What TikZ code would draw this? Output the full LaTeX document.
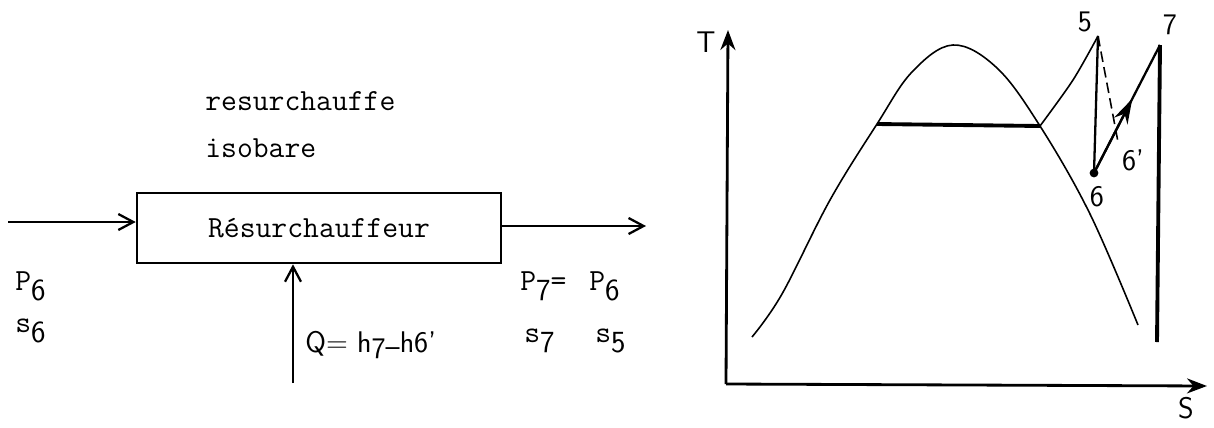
\documentclass[tikz,border=0pt]{standalone}
\usetikzlibrary{arrows.meta,calc}
\newcommand{\lowsub}[1]{\raisebox{-.8ex}{\sffamily #1}}

\begin{document}
\begin{tikzpicture}[x=0.02cm,y=-0.02cm,
  tw/.style={font=\fontsize{17.5}{20}\selectfont\ttfamily,inner sep=0pt,anchor=base west},
  hand/.style={font=\fontsize{17}{20}\selectfont\sffamily,inner sep=0pt},
  flow/.style={line width=1.3pt,-{Straight Barb[length=3mm,width=3.2mm]}},
  axis/.style={line width=1.6pt,-{Stealth[length=4mm,width=3mm]}}]
  \useasboundingbox (0,0) rectangle (1214,427);
  % Resurchauffeur
  \node[draw,line width=1.5pt,minimum width=7.28cm,minimum height=1.4cm,inner sep=0pt,
        font=\fontsize{17.5}{20}\selectfont\ttfamily] (box) at (319,228) {Résurchauffeur};
  \node[tw] (rs) at (205,110) {resurchauffe};
  \node[tw] (iso) at (205,157) {isobare};
  % flows
  \coordinate (in) at (8,222);
  \coordinate (out) at (646,226);
  \coordinate (qin) at (293,383);
  \draw[flow] (in) -- (in -| box.west);
  \draw[flow] (out -| box.east) -- (out);
  \draw[flow] (qin) -- (qin |- box.south);
  \node[tw] (pin) at (15,290) {P\lowsub{6}};
  \node[tw] (sin) at (15,332) {s\lowsub{6}};
  \node[hand,anchor=west] (q) at (305,345) {Q= h\raisebox{-.4ex}{7}\raisebox{-.3ex}{--}h6'};
  \node[tw] (pout) at (520,290) {P\lowsub{7}=};
  \node[tw] (pin2) at (589,290) {P\lowsub{6}};
  \node[tw] (sout) at (524,342) {s\lowsub{7}};
  \node[tw] (s5) at (595,342) {s\lowsub{5}};
  % T-S diagram
  \coordinate (o) at (726,384);
  \coordinate (ty) at (728,30);
  \coordinate (sx) at (1207,386);
  \draw[axis] (o) -- (ty);
  \draw[axis] (o) -- (sx);
  \node[hand] (t) at (706,42) {T};
  \node[hand] (s) at (1186,408) {S};
  % dome
  \coordinate (a) at (877,124);
  \coordinate (b) at (1040,126);
  \draw[line width=0.9pt] plot[smooth,tension=0.6] coordinates {(752,337) (782,294)
    (830,200) (a) (912,72) (953,45) (997,68) (b) (1090,214) (1138,325)};
  \draw[line width=2.2pt] (a) -- (b);
  % cycle
  \coordinate (p5) at (1098,36);
  \coordinate (p6) at (1094,173);
  \coordinate (p6p) at (1118,142);
  \coordinate (p7) at (1160,45);
  \coordinate (p7b) at (1157,342);
  \draw[line width=0.9pt] plot[smooth] coordinates {(b) (1073,80) (p5)};
  \draw[line width=1.3pt] (p5) -- (p6);
  \draw[line width=0.9pt,dash pattern=on 6pt off 3pt] (p5) -- (p6p);
  \draw[line width=1.3pt] (p6) -- (p7);
  \draw[line width=1.3pt,-{Stealth[length=5mm,width=3mm]}] (p6) -- ($(p6)!0.58!(p7)$);
  \draw[line width=2.2pt] (p7) -- (p7b);
  \fill (p6) circle (2.5pt);
  \node[hand] (l5) at (1085,22) {5};
  \node[hand] (l6) at (1097,197) {6};
  \node[hand] (l6p) at (1133,160) {6'};
  \node[hand] (l7) at (1170,25) {7};
\end{tikzpicture}
\end{document}
